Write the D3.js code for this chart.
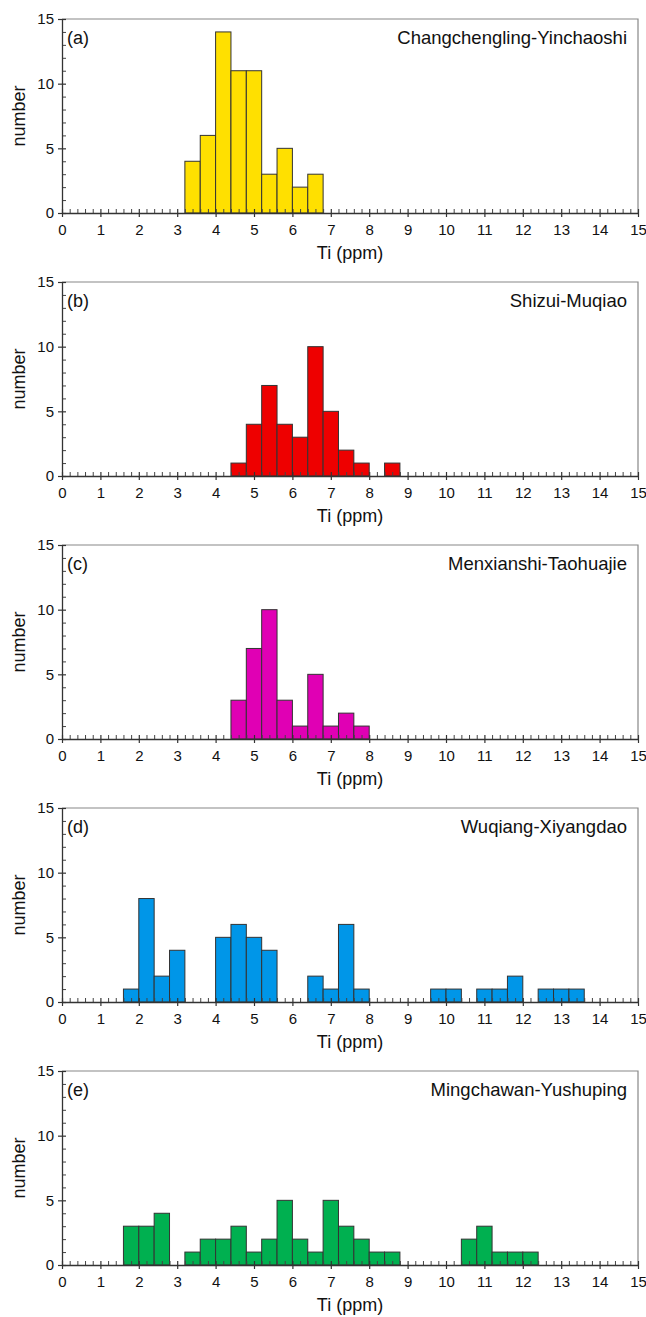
<!DOCTYPE html>
<meta charset="utf-8">
<script src="https://cdn.jsdelivr.net/npm/d3@7"></script>
<style>
body { margin: 0; background: #fff; }
text { font-family: "Liberation Sans", Arial, sans-serif; fill: #111; }
.bar { stroke: #333; stroke-width: 1px; }
</style>
<body>
<script>

// bins are 0.4 ppm wide; each value is [bin start, count]
var binWidth = 0.4;
var panelLabels = ["(a)", "(b)", "(c)", "(d)", "(e)"];
var panelNames = ["Changchengling-Yinchaoshi", "Shizui-Muqiao", "Menxianshi-Taohuajie",
                  "Wuqiang-Xiyangdao", "Mingchawan-Yushuping"];
var panelColors = ["#ffe000", "#ee0000", "#e000b4", "#0096e8", "#00b050"];

var binsA = [[3.2, 4], [3.6, 6], [4.0, 14], [4.4, 11], [4.8, 11], [5.2, 3], [5.6, 5], [6.0, 2], [6.4, 3]];
var binsB = [[4.4, 1], [4.8, 4], [5.2, 7], [5.6, 4], [6.0, 3], [6.4, 10], [6.8, 5], [7.2, 2], [7.6, 1], [8.4, 1]];
var binsC = [[4.4, 3], [4.8, 7], [5.2, 10], [5.6, 3], [6.0, 1], [6.4, 5], [6.8, 1], [7.2, 2], [7.6, 1]];
var binsD = [[1.6, 1], [2.0, 8], [2.4, 2], [2.8, 4], [4.0, 5], [4.4, 6], [4.8, 5], [5.2, 4],
             [6.4, 2], [6.8, 1], [7.2, 6], [7.6, 1], [9.6, 1], [10.0, 1], [10.8, 1], [11.2, 1],
             [11.6, 2], [12.4, 1], [12.8, 1], [13.2, 1]];
var binsE = [[1.6, 3], [2.0, 3], [2.4, 4], [3.2, 1], [3.6, 2], [4.0, 2], [4.4, 3], [4.8, 1],
             [5.2, 2], [5.6, 5], [6.0, 2], [6.4, 1], [6.8, 5], [7.2, 3], [7.6, 2], [8.0, 1],
             [8.4, 1], [10.4, 2], [10.8, 3], [11.2, 1], [11.6, 1], [12.0, 1]];
var allBins = [binsA, binsB, binsC, binsD, binsE];

var xTicks = d3.range(0, 16);
var yTicks = [0, 5, 10, 15];

var width = 646, height = 1317;
var left = 62, right = 638, plotH = 194, top0 = 19, step = 263;

var svg = d3.select("body").append("svg")
    .attr("width", width)
    .attr("height", height);

var x = d3.scaleLinear().domain([0, 15]).range([left, right]);

allBins.forEach(function(bins, i) {
  var top = top0 + i * step;
  var y = d3.scaleLinear().domain([0, 15]).range([top + plotH, top]);
  var g = svg.append("g");

  // frame top and right
  g.append("path")
      .attr("d", "M" + left + "," + top + "H" + right + "V" + (top + plotH))
      .attr("fill", "none")
      .attr("stroke", "#888")
      .attr("stroke-width", 1.2);

  // bars
  g.selectAll("rect.bar")
      .data(bins)
      .enter().append("rect")
      .attr("class", "bar")
      .attr("x", function(d) { return x(d[0]); })
      .attr("width", function(d) { return x(d[0] + binWidth) - x(d[0]); })
      .attr("y", function(d) { return y(d[1]); })
      .attr("height", function(d) { return y(0) - y(d[1]); })
      .attr("fill", panelColors[i]);

  // minor ticks, pointing inward
  var xMinor = d3.range(0, 75).map(function(k) { return k * 0.2; })
      .filter(function(v, k) { return k % 5 !== 0; });
  g.append("g")
      .attr("transform", "translate(0," + (top + plotH) + ")")
      .call(d3.axisTop(x).tickValues(xMinor).tickSize(4).tickFormat(""))
      .call(function(a) { a.select(".domain").remove(); a.selectAll("line").attr("stroke", "#444"); });
  var yMinor = d3.range(1, 15).filter(function(v) { return v % 5 !== 0; });
  g.append("g")
      .attr("transform", "translate(" + left + ",0)")
      .call(d3.axisRight(y).tickValues(yMinor).tickSize(4).tickFormat(""))
      .call(function(a) { a.select(".domain").remove(); a.selectAll("line").attr("stroke", "#444"); });

  // x axis
  var xa = g.append("g")
      .attr("transform", "translate(0," + (top + plotH) + ")")
      .call(d3.axisBottom(x).tickValues(xTicks).tickSize(4).tickSizeOuter(0).tickPadding(7));
  xa.select(".domain").attr("stroke", "#333").attr("stroke-width", 1.3);
  xa.selectAll(".tick line").attr("stroke", "#333").attr("y1", -4).attr("stroke-width", 1.2);
  xa.selectAll("text").attr("font-size", 15).attr("font-family", "Liberation Sans, Arial, sans-serif").attr("fill", "#111");

  // y axis
  var ya = g.append("g")
      .attr("transform", "translate(" + left + ",0)")
      .call(d3.axisLeft(y).tickValues(yTicks).tickSize(4).tickSizeOuter(0).tickPadding(4));
  ya.select(".domain").attr("stroke", "#333").attr("stroke-width", 1.3);
  ya.selectAll(".tick line").attr("stroke", "#333").attr("x1", 4).attr("stroke-width", 1.2);
  ya.selectAll("text").attr("font-size", 15).attr("font-family", "Liberation Sans, Arial, sans-serif").attr("fill", "#111");

  // labels
  g.append("text")
      .attr("x", 67)
      .attr("y", top + 25)
      .attr("font-size", 18)
      .text(panelLabels[i]);

  g.append("text")
      .attr("x", 627)
      .attr("y", top + 25)
      .attr("font-size", 18.5)
      .attr("text-anchor", "end")
      .text(panelNames[i]);

  g.append("text")
      .attr("x", (left + right) / 2)
      .attr("y", top + plotH + 46)
      .attr("font-size", 18)
      .attr("text-anchor", "middle")
      .text("Ti (ppm)");

  g.append("text")
      .attr("transform", "translate(25," + (top + plotH / 2) + ") rotate(-90)")
      .attr("font-size", 18)
      .attr("text-anchor", "middle")
      .text("number");
});

</script>
</body>
